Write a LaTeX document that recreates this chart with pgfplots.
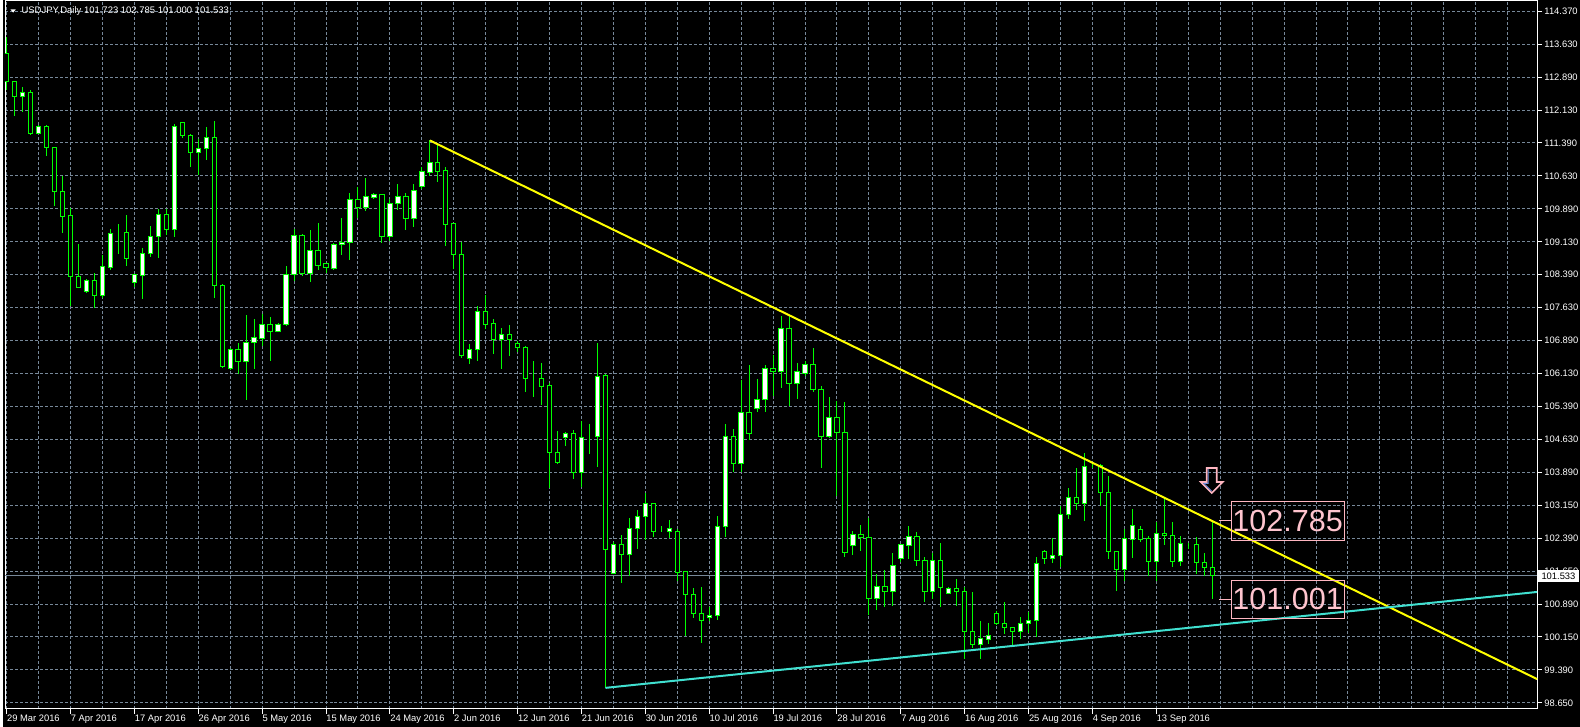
\documentclass[border=0pt]{standalone}
\usepackage{pgfplots}
\pgfplotsset{compat=1.18}
\usepackage{pgfplotstable}
\usepackage{fontspec}
\setmainfont{Liberation Sans}
\definecolor{cgreen}{RGB}{0,255,0}
\definecolor{gridc}{RGB}{119,136,153}
\definecolor{trendy}{RGB}{255,255,0}
\definecolor{trendc}{RGB}{64,224,208}
\definecolor{lblpink}{RGB}{255,182,193}
\definecolor{lbltext}{RGB}{255,196,206}
\definecolor{arrblue}{RGB}{110,140,220}

\pgfplotstableread{
i O H L C
0 113.42 113.79 112.58 112.77
1 112.77 112.77 111.99 112.43
2 112.43 112.64 112.09 112.53
3 112.53 112.58 111.56 111.59
4 111.59 111.78 111.59 111.76
5 111.76 111.79 111.07 111.28
6 111.28 111.28 109.94 110.28
7 110.28 110.62 109.32 109.71
8 109.72 109.90 107.67 108.33
9 108.33 109.09 108.08 108.08
10 107.99 108.29 107.97 108.24
11 108.24 108.43 107.63 107.90
12 107.90 108.84 107.86 108.56
13 108.55 109.41 108.49 109.31
14 109.33 109.54 108.86 109.33
15 109.33 109.73 108.58 108.76
16 108.21 108.38 108.11 108.38
17 108.37 108.98 107.82 108.86
18 108.86 109.48 108.78 109.24
19 109.24 109.88 108.76 109.74
20 109.74 109.88 109.29 109.42
21 109.42 111.81 109.23 111.75
22 111.85 111.85 111.50 111.55
23 111.55 111.58 110.82 111.16
24 111.16 111.47 110.66 111.26
25 111.25 111.74 111.00 111.51
26 111.51 111.88 107.86 108.13
27 108.13 108.16 106.26 106.29
28 106.25 106.72 106.22 106.68
29 106.68 106.82 106.12 106.40
30 106.40 107.46 105.54 106.84
31 106.84 107.37 106.23 106.95
32 106.94 107.50 106.76 107.25
33 107.25 107.41 106.42 107.08
34 107.08 107.29 107.07 107.25
35 107.24 108.59 107.22 108.38
36 108.38 109.41 108.25 109.27
37 109.27 109.30 108.35 108.42
38 108.42 109.39 108.21 108.93
39 108.93 109.55 108.50 108.60
40 108.63 108.63 108.41 108.54
41 108.53 109.11 108.50 109.06
42 109.06 109.67 108.83 109.11
43 109.11 110.24 108.71 110.10
44 110.10 110.38 109.66 109.92
45 109.92 110.58 109.82 110.15
46 110.14 110.24 110.10 110.20
47 110.20 110.20 109.11 109.26
48 109.26 110.11 109.14 110.01
49 110.01 110.45 109.86 110.17
50 110.17 110.23 109.39 109.67
51 109.67 110.45 109.46 110.29
52 110.39 110.82 110.32 110.72
53 110.71 111.44 110.62 110.94
54 110.94 111.38 110.48 110.73
55 110.74 110.83 109.03 109.53
56 109.54 109.54 108.50 108.83
57 108.83 109.13 106.48 106.54
58 106.47 106.80 106.35 106.68
59 106.67 107.66 106.42 107.54
60 107.54 107.91 107.14 107.26
61 107.27 107.38 106.57 106.90
62 106.90 107.18 106.23 107.02
63 107.02 107.25 106.54 106.90
64 106.82 106.87 106.63 106.72
65 106.72 106.76 105.72 106.02
66 106.02 106.41 105.61 106.02
67 106.02 106.38 105.42 105.85
68 105.86 105.92 103.53 104.34
69 104.34 104.82 104.09 104.12
70 104.68 104.80 104.49 104.77
71 104.77 104.85 103.74 103.89
72 103.89 105.05 103.55 104.68
73 104.70 104.99 104.30 104.70
74 104.71 106.82 104.02 106.07
75 106.08 106.12 98.99 102.13
76 101.59 102.30 101.57 102.25
77 102.25 102.47 101.38 102.02
78 102.02 102.86 101.54 102.62
79 102.61 103.03 102.15 102.89
80 102.88 103.41 102.36 103.19
81 103.19 103.19 102.41 102.54
82 102.62 102.67 102.53 102.62
83 102.55 102.81 102.40 102.62
84 102.55 102.59 101.42 101.61
85 101.64 101.64 100.18 101.11
86 101.12 101.26 100.58 100.69
87 100.69 101.29 100.00 100.52
88 100.59 100.83 100.52 100.64
89 100.64 102.90 100.54 102.66
90 102.66 104.98 102.42 104.71
91 104.71 104.87 103.89 104.09
92 104.09 105.99 103.90 105.25
93 105.25 106.32 104.63 104.77
94 105.34 106.01 105.26 105.54
95 105.54 106.32 105.26 106.25
96 106.25 106.55 105.63 106.18
97 106.18 107.44 105.81 107.16
98 107.16 107.44 105.40 105.90
99 105.90 106.38 105.55 106.18
100 106.13 106.41 106.08 106.34
101 106.34 106.72 105.72 105.77
102 105.78 105.85 103.98 104.71
103 104.71 105.60 104.68 105.14
104 105.14 105.51 103.36 104.80
105 104.80 105.48 101.96 102.07
106 102.23 102.56 102.00 102.48
107 102.48 102.69 102.11 102.41
108 102.41 102.85 100.64 101.03
109 101.03 101.58 100.75 101.30
110 101.30 101.67 100.84 101.18
111 101.18 102.06 100.86 101.78
112 101.94 102.26 101.85 102.24
113 102.23 102.67 101.91 102.44
114 102.44 102.53 101.77 101.88
115 101.89 101.96 100.95 101.18
116 101.18 102.06 101.02 101.89
117 101.89 102.29 100.82 101.27
118 101.14 101.28 101.14 101.26
119 101.26 101.47 100.86 101.18
120 101.19 101.28 99.65 100.27
121 100.28 101.18 99.90 99.98
122 99.98 100.52 99.65 100.11
123 100.08 100.47 99.99 100.17
124 100.69 100.74 100.41 100.46
125 100.46 100.94 100.21 100.37
126 100.36 100.36 99.96 100.28
127 100.28 100.60 100.11 100.46
128 100.46 100.71 100.24 100.52
129 100.52 101.96 100.15 101.81
130 102.10 102.12 101.81 101.94
131 101.94 102.39 101.83 102.01
132 102.00 103.13 101.73 102.94
133 102.93 103.53 102.83 103.32
134 103.32 104.00 103.04 103.18
135 103.18 104.32 102.79 104.02
136 104.08 104.12 104.00 104.08
137 104.04 104.08 103.13 103.43
138 103.43 103.81 101.92 102.10
139 102.10 102.11 101.20 101.68
140 101.68 102.60 101.41 102.38
141 102.37 103.06 101.94 102.69
142 102.60 102.66 102.30 102.36
143 102.38 102.45 101.54 101.86
144 101.86 102.75 101.41 102.50
145 102.50 103.32 102.24 102.45
146 102.46 102.75 101.73 101.86
147 101.86 102.45 101.77 102.28
148 102.22 102.29 102.15 102.22
149 102.24 102.41 101.58 101.85
150 101.85 102.05 101.54 101.73
151 101.723 102.785 101.000 101.533
}\candles

\pgfdeclareplotmark{dnarrow}{%
  \pgfpathmoveto{\pgfpoint{-2.5pt}{12.5pt}}%
  \pgfpathlineto{\pgfpoint{2.5pt}{12.5pt}}%
  \pgfpathlineto{\pgfpoint{2.5pt}{5.5pt}}%
  \pgfpathlineto{\pgfpoint{5.5pt}{5.5pt}}%
  \pgfpathlineto{\pgfpoint{0pt}{0pt}}%
  \pgfpathlineto{\pgfpoint{-5.5pt}{5.5pt}}%
  \pgfpathlineto{\pgfpoint{-2.5pt}{5.5pt}}%
  \pgfpathclose
  \pgfusepath{stroke}%
}
\pgfdeclareplotmark{dnarrowin}{%
  \pgfpathmoveto{\pgfpoint{-1.8pt}{12pt}}%
  \pgfpathlineto{\pgfpoint{-1.8pt}{4.8pt}}%
  \pgfpathlineto{\pgfpoint{-4pt}{4.8pt}}%
  \pgfpathlineto{\pgfpoint{0pt}{0.9pt}}%
  \pgfusepath{stroke}%
}

\pgfplotsset{
  mt4/.style={
    scale only axis, width=767.5pt, height=354.5pt,
    anchor=north west, at={(1pt,-0.5pt)},
    xmin=-0.1875, xmax=191.6875, ymin=98.519, ymax=114.603,
  },
}

\newcommand{\smallf}{\fontsize{4.7}{5.5}\selectfont}

\begin{document}
\begin{tikzpicture}
\fill[black] (0,0) rectangle (790pt,-364pt);

% --- axis A: frame, grid, ticks, wicks
\begin{axis}[mt4, clip=false,
  axis line style={white, line width=0.5pt},
  xtick={0,8,...,144},
  xticklabels={29 Mar 2016,7 Apr 2016,17 Apr 2016,26 Apr 2016,5 May 2016,15 May 2016,24 May 2016,2 Jun 2016,12 Jun 2016,21 Jun 2016,30 Jun 2016,10 Jul 2016,19 Jul 2016,28 Jul 2016,7 Aug 2016,16 Aug 2016,25 Aug 2016,4 Sep 2016,13 Sep 2016},
  minor xtick={4,8,...,188},
  ytick={114.37,113.6214,112.8729,112.1243,111.3757,110.6271,109.8786,109.13,108.3814,107.6329,106.8843,106.1357,105.3871,104.6386,103.89,103.1414,102.3929,101.6443,100.8957,100.1471,99.3986,98.65},
  yticklabels={114.370,113.630,112.890,112.130,111.390,110.630,109.890,109.130,108.390,107.630,106.890,106.130,105.390,104.630,103.890,103.150,102.390,101.650,100.890,100.150,99.390,98.650},
  xtick pos=bottom, ytick pos=right, yticklabel pos=right,
  tick align=outside, major tick length=2.5pt, minor tick length=0pt,
  tick style={white, line width=0.5pt},
  xmajorgrids, xminorgrids, ymajorgrids,
  major grid style={gridc, line width=0.5pt, dash pattern=on 1.5pt off 1pt},
  minor grid style={gridc, line width=0.5pt, dash pattern=on 1.5pt off 1pt},
  xticklabel style={font=\smallf, text=white, anchor=north west, inner sep=0pt, yshift=-0.5pt},
  yticklabel style={font=\smallf, text=white, anchor=west, inner sep=0pt, xshift=1pt},
]
\addplot[gridc, line width=0.5pt] coordinates {(-0.1875,101.533) (191.6875,101.533)};
\addplot[draw=none, mark=none, forget plot,
  error bars/.cd, y dir=both, y explicit, error mark=none,
  error bar style={draw=cgreen, line width=0.5pt}]
  table[x=i, y expr={(\thisrow{H}+\thisrow{L})/2}, y error expr={(\thisrow{H}-\thisrow{L})/2}] {\candles};
\end{axis}

% --- axis B: candle bodies
\begin{axis}[mt4, hide axis, ybar stacked, bar width=0.55]
\addplot[draw=none, fill=none] table[x=i, y expr={min(\thisrow{O},\thisrow{C})}] {\candles};
\addplot[draw=cgreen, fill=white, line width=0.5pt] table[x=i, y expr={max(\thisrow{C}-\thisrow{O},0)}] {\candles};
\addplot[draw=cgreen, fill=black, line width=0.5pt] table[x=i, y expr={max(\thisrow{O}-\thisrow{C},0)}] {\candles};
\end{axis}

% --- axis C: objects
\begin{axis}[mt4, hide axis, clip=false]
\addplot[trendy, line width=1pt] coordinates {(53,111.434) (191.6875,99.19)};
\addplot[trendc, line width=1pt] coordinates {(75,98.99) (191.6875,101.17)};
\addplot[only marks, mark=dnarrow, mark options={draw=lblpink, line width=0.8pt}] coordinates {(150.94,103.42)};
\addplot[only marks, mark=dnarrowin, mark options={draw=arrblue, line width=0.4pt}] coordinates {(150.94,103.42)};
\draw[lblpink, line width=0.5pt] (axis cs:151.9,102.785) -- (axis cs:153.3,102.785);
\draw[lblpink, line width=0.5pt] (axis cs:151.9,101.001) -- (axis cs:153.3,101.001);
\node[draw=lblpink, line width=0.5pt, anchor=west, text=lbltext, font=\fontsize{15.3}{18}\selectfont, inner sep=0.6pt, minimum height=19.2pt, minimum width=56.6pt] at (axis cs:153.3,102.785) {102.785};
\node[draw=lblpink, line width=0.5pt, anchor=west, text=lbltext, font=\fontsize{15.3}{18}\selectfont, inner sep=0.6pt, minimum height=19.2pt, minimum width=56.6pt] at (axis cs:153.3,101.001) {101.001};
\node[fill=white, text=black, anchor=west, font=\smallf, inner sep=0.7pt, minimum height=6.5pt, minimum width=21pt] at (axis cs:191.6875,101.533) {101.533};
\end{axis}

% title
\fill[white] (3.65pt,-4.65pt) -- (6.35pt,-4.65pt) -- (5pt,-6.35pt) -- cycle;
\node[anchor=west, text=white, inner sep=0pt, font=\fontsize{4.75}{5.5}\selectfont] at (9pt,-5.3pt) {USDJPY,Daily  101.723 102.785 101.000 101.533};
\end{tikzpicture}
\end{document}
